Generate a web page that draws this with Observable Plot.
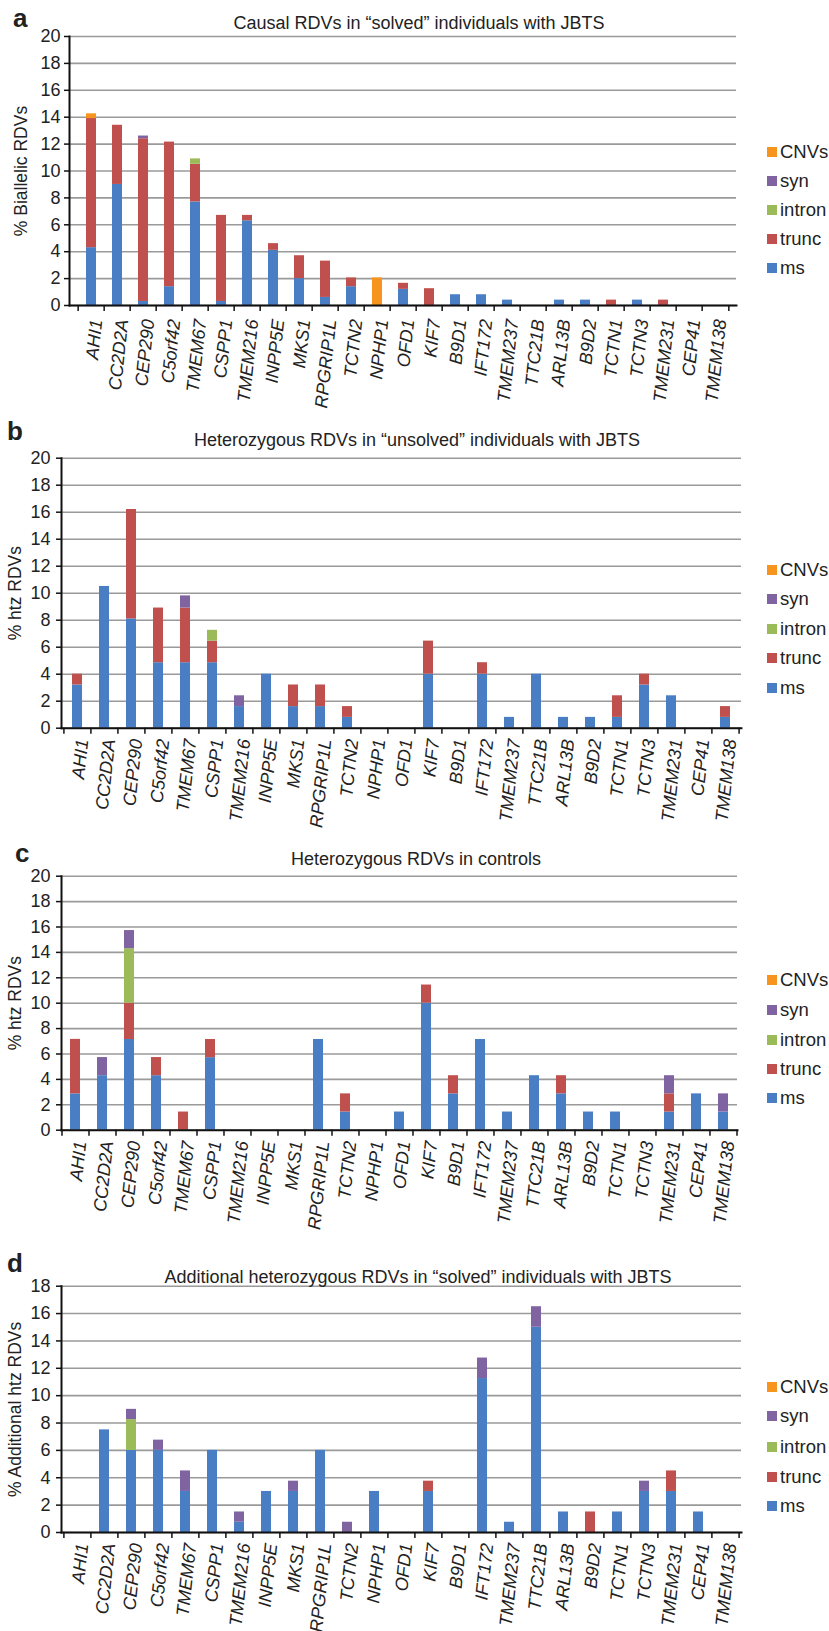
<!DOCTYPE html>
<html>
<head>
<meta charset="utf-8">
<script src="https://cdn.jsdelivr.net/npm/d3@7"></script>
<script src="https://cdn.jsdelivr.net/npm/@observablehq/plot@0.6"></script>
<style>
  html, body { margin: 0; padding: 0; background: #fff; }
  #root { position: relative; width: 829px; height: 1631px; overflow: hidden;
          font-family: "Liberation Sans", Arial, Helvetica, sans-serif; color: #222; }
  .abs { position: absolute; white-space: nowrap; line-height: 1; }
  .plot { position: absolute; left: 0; }
  .leg { position: absolute; display: flex; align-items: center; height: 22px; font-size: 18.5px; }
  .leg span.sw { display: inline-block; width: 10px; height: 10px; margin-right: 3px; }
</style>
</head>
<body>
<div id="root"></div>
<script>
// ---------- data ----------
const genes = ["AHI1","CC2D2A","CEP290","C5orf42","TMEM67","CSPP1","TMEM216","INPP5E","MKS1","RPGRIP1L",
               "TCTN2","NPHP1","OFD1","KIF7","B9D1","IFT172","TMEM237","TTC21B","ARL13B","B9D2",
               "TCTN1","TCTN3","TMEM231","CEP41","TMEM138"];
const types = ["ms", "trunc", "intron", "syn", "CNVs"];
const typeColors = ["#4a7ec4", "#c0504d", "#9bbb59", "#8064a2", "#f7941e"];
const legendOrder = ["CNVs", "syn", "intron", "trunc", "ms"];

// (a) Causal RDVs in "solved" individuals (% biallelic RDVs)
const aMs     = [4.3, 9.0, 0.3, 1.4, 7.7, 0.3, 6.3, 4.1, 2.0, 0.6, 1.4, 0, 1.2, 0, 0.8, 0.8, 0.4, 0, 0.4, 0.4, 0, 0.4, 0, 0, 0];
const aTrunc  = [9.6, 4.4, 12.1, 10.75, 2.8, 6.4, 0.4, 0.5, 1.7, 2.7, 0.65, 0, 0.45, 1.25, 0, 0, 0, 0, 0, 0, 0.4, 0, 0.4, 0, 0];
const aIntron = [0, 0, 0, 0, 0.4, 0, 0, 0, 0, 0, 0, 0, 0, 0, 0, 0, 0, 0, 0, 0, 0, 0, 0, 0, 0];
const aSyn    = [0, 0, 0.2, 0, 0, 0, 0, 0, 0, 0, 0, 0, 0, 0, 0, 0, 0, 0, 0, 0, 0, 0, 0, 0, 0];
const aCnv    = [0.35, 0, 0, 0, 0, 0, 0, 0, 0, 0, 0, 2.05, 0, 0, 0, 0, 0, 0, 0, 0, 0, 0, 0, 0, 0];

// (b) Heterozygous RDVs in "unsolved" individuals (% htz RDVs)
const bMs     = [3.2, 10.5, 8.1, 4.85, 4.85, 4.85, 1.6, 4.0, 1.6, 1.6, 0.8, 0, 0, 4.0, 0, 4.0, 0.8, 4.0, 0.8, 0.8, 0.8, 3.2, 2.4, 0, 0.8];
const bTrunc  = [0.8, 0, 8.1, 4.05, 4.05, 1.6, 0, 0, 1.6, 1.6, 0.8, 0, 0, 2.45, 0, 0.85, 0, 0, 0, 0, 1.6, 0.8, 0, 0, 0.8];
const bIntron = [0, 0, 0, 0, 0, 0.8, 0, 0, 0, 0, 0, 0, 0, 0, 0, 0, 0, 0, 0, 0, 0, 0, 0, 0, 0];
const bSyn    = [0, 0, 0, 0, 0.9, 0, 0.8, 0, 0, 0, 0, 0, 0, 0, 0, 0, 0, 0, 0, 0, 0, 0, 0, 0, 0];
const bCnv    = [0, 0, 0, 0, 0, 0, 0, 0, 0, 0, 0, 0, 0, 0, 0, 0, 0, 0, 0, 0, 0, 0, 0, 0, 0];

// (c) Heterozygous RDVs in controls (% htz RDVs)
const cMs     = [2.86, 4.29, 7.14, 4.29, 0, 5.71, 0, 0, 0, 7.14, 1.43, 0, 1.43, 10.0, 2.86, 7.14, 1.43, 4.29, 2.86, 1.43, 1.43, 0, 1.43, 2.86, 1.43];
const cTrunc  = [4.29, 0, 2.86, 1.43, 1.43, 1.43, 0, 0, 0, 0, 1.43, 0, 0, 1.43, 1.43, 0, 0, 0, 1.43, 0, 0, 0, 1.43, 0, 0];
const cIntron = [0, 0, 4.29, 0, 0, 0, 0, 0, 0, 0, 0, 0, 0, 0, 0, 0, 0, 0, 0, 0, 0, 0, 0, 0, 0];
const cSyn    = [0, 1.43, 1.43, 0, 0, 0, 0, 0, 0, 0, 0, 0, 0, 0, 0, 0, 0, 0, 0, 0, 0, 0, 1.43, 0, 1.43];
const cCnv    = [0, 0, 0, 0, 0, 0, 0, 0, 0, 0, 0, 0, 0, 0, 0, 0, 0, 0, 0, 0, 0, 0, 0, 0, 0];

// (d) Additional heterozygous RDVs in "solved" individuals (% additional htz RDVs)
const dMs     = [0, 7.5, 6.0, 6.0, 3.0, 6.0, 0.75, 3.0, 3.0, 6.0, 0, 3.0, 0, 3.0, 0, 11.25, 0.75, 15.0, 1.5, 0, 1.5, 3.0, 3.0, 1.5, 0];
const dTrunc  = [0, 0, 0, 0, 0, 0, 0, 0, 0, 0, 0, 0, 0, 0.75, 0, 0, 0, 0, 0, 1.5, 0, 0, 1.5, 0, 0];
const dIntron = [0, 0, 2.25, 0, 0, 0, 0, 0, 0, 0, 0, 0, 0, 0, 0, 0, 0, 0, 0, 0, 0, 0, 0, 0, 0];
const dSyn    = [0, 0, 0.75, 0.75, 1.5, 0, 0.75, 0, 0.75, 0, 0.75, 0, 0, 0, 0, 1.5, 0, 1.5, 0, 0, 0, 0.75, 0, 0, 0];
const dCnv    = [0, 0, 0, 0, 0, 0, 0, 0, 0, 0, 0, 0, 0, 0, 0, 0, 0, 0, 0, 0, 0, 0, 0, 0, 0];

const titles  = ["Causal RDVs in \u201Csolved\u201D individuals with JBTS",
                 "Heterozygous RDVs in \u201Cunsolved\u201D individuals with JBTS",
                 "Heterozygous RDVs in controls",
                 "Additional heterozygous RDVs in \u201Csolved\u201D individuals with JBTS"];
const yLabels = ["% Biallelic RDVs", "% htz RDVs", "% htz RDVs", "% Additional htz RDVs"];
const letters = ["a", "b", "c", "d"];
const yMaxes  = [20, 20, 20, 18];
const seriesByPanel = [
  [aMs, aTrunc, aIntron, aSyn, aCnv],
  [bMs, bTrunc, bIntron, bSyn, bCnv],
  [cMs, cTrunc, cIntron, cSyn, cCnv],
  [dMs, dTrunc, dIntron, dSyn, dCnv]
];

// ---------- layout (pixels) ----------
const layout = [
  {svgTop: 30,   top: 36,    bottom: 305,    left: 69, right: 736, letterX: 13, letterBase: 27,   titleX: 419, titleBase: 29,   ylabX: 21, legendY: [152, 181, 210, 239, 268], tickPad: 4, labPad: 14},
  {svgTop: 450,  top: 457.7, bottom: 727.7,  left: 61, right: 741, letterX: 7,  letterBase: 440,  titleX: 417, titleBase: 446,  ylabX: 15, legendY: [570, 599, 629, 658, 688], tickPad: 6, labPad: 11},
  {svgTop: 868,  top: 875.7, bottom: 1129.7, left: 61, right: 737, letterX: 15, letterBase: 862,  titleX: 416, titleBase: 865,  ylabX: 15, legendY: [980, 1010, 1040, 1069, 1098], tickPad: 6, labPad: 11},
  {svgTop: 1278, top: 1285.7, bottom: 1532,  left: 61, right: 741, letterX: 7,  letterBase: 1272, titleX: 418, titleBase: 1283, ylabX: 15, legendY: [1387, 1416, 1447, 1477, 1506], tickPad: 6, labPad: 11}
];

const root = document.getElementById("root");
const FONT = '"Liberation Sans", Arial, Helvetica, sans-serif';

function addText(txt, x, base, fs, opts = {}) {
  const d = document.createElement("div");
  d.className = "abs";
  d.textContent = txt;
  d.style.fontSize = fs + "px";
  d.style.top = (base - 0.8465 * fs) + "px";
  d.style.left = x + "px";
  if (opts.center) d.style.transform = "translateX(-50%)";
  if (opts.bold) d.style.fontWeight = "bold";
  root.appendChild(d);
}

seriesByPanel.forEach((series, pi) => {
  const L = layout[pi];
  const rows = [];
  genes.forEach((g, gi) => {
    types.forEach((t, ti) => {
      const v = series[ti][gi];
      if (v > 0) rows.push({gene: g, type: t, value: v});
    });
  });
  const yTicks = d3.range(0, yMaxes[pi] + 0.001, 2);
  const step = (L.right - L.left) / genes.length;
  const mb = 112;
  const chart = Plot.plot({
    width: 829,
    height: (L.bottom - L.svgTop) + mb,
    marginTop: L.top - L.svgTop,
    marginBottom: mb,
    marginLeft: L.left,
    marginRight: 829 - L.right,
    style: {fontFamily: FONT, color: "#222", background: "transparent", overflow: "visible"},
    x: {domain: genes, paddingInner: 0.62, paddingOuter: 0.31},
    y: {domain: [0, yMaxes[pi]]},
    color: {domain: types, range: typeColors},
    marks: [
      Plot.gridY(yTicks, {stroke: "#9a9a9a", strokeOpacity: 1, strokeWidth: 1.6}),
      Plot.barY(rows, {x: "gene", y: "value", fill: "type", order: types}),
      Plot.axisY(yTicks, {tickSize: 5, tickPadding: L.tickPad, fontSize: 18, label: null, stroke: "#111", strokeWidth: 1.5}),
      Plot.frame({anchor: "left", stroke: "#111", strokeWidth: 2}),
      Plot.frame({anchor: "bottom", stroke: "#111", strokeWidth: 2}),
      Plot.axisX({tickSize: 0, tickPadding: L.labPad, tickRotate: -84, fontSize: 18, fontStyle: "italic", label: null, dx: 5}),
      Plot.ruleX(genes, {x: d => d, dx: -step / 2, y1: 0, y2: 0, insetBottom: -6, stroke: "#111", strokeWidth: 1.5}),
      Plot.ruleX(genes.slice(-1), {x: d => d, dx: step / 2, y1: 0, y2: 0, insetBottom: -6, stroke: "#111", strokeWidth: 1.5}),
      Plot.text([yLabels[pi]], {frameAnchor: "left", textAnchor: "middle", lineAnchor: "middle", rotate: -90, dx: L.ylabX - L.left, fontSize: 17.5, fill: "#222"})
    ]
  });
  chart.classList.add("plot");
  chart.style.top = L.svgTop + "px";
  root.appendChild(chart);

  addText(letters[pi], L.letterX, L.letterBase, 26, {bold: true});
  addText(titles[pi], L.titleX, L.titleBase, 18, {center: true});

  legendOrder.forEach((t, k) => {
    const item = document.createElement("div");
    item.className = "leg";
    item.style.left = "767px";
    item.style.top = (L.legendY[k] - 11) + "px";
    const sw = document.createElement("span");
    sw.className = "sw";
    sw.style.background = typeColors[types.indexOf(t)];
    item.appendChild(sw);
    item.appendChild(document.createTextNode(t));
    root.appendChild(item);
  });
});
</script>
</body>
</html>
